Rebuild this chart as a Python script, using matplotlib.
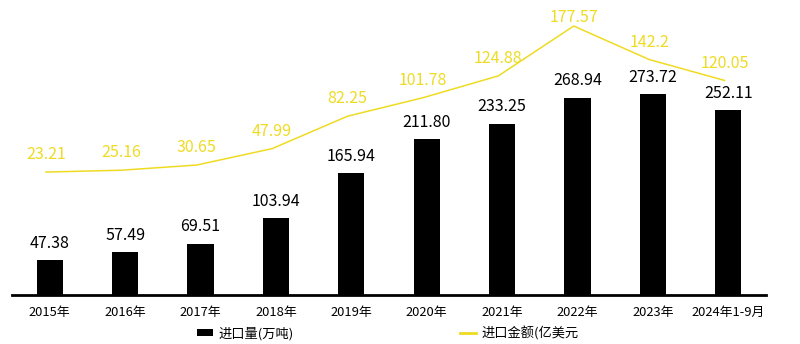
import matplotlib
matplotlib.use("Agg")
import matplotlib.pyplot as plt
from matplotlib.patches import Patch
from matplotlib.lines import Line2D

plt.rcParams['font.family'] = ['Noto Sans CJK SC', 'DejaVu Sans']

years = ['2015年', '2016年', '2017年', '2018年', '2019年', '2020年',
         '2021年', '2022年', '2023年', '2024年1-9月']
volume = [47.38, 57.49, 69.51, 103.94, 165.94, 211.80, 233.25, 268.94, 273.72, 252.11]
value = [23.21, 25.16, 30.65, 47.99, 82.25, 101.78, 124.88, 177.57, 142.2, 120.05]
volume_labels = ['47.38', '57.49', '69.51', '103.94', '165.94', '211.80',
                 '233.25', '268.94', '273.72', '252.11']
value_labels = ['23.21', '25.16', '30.65', '47.99', '82.25', '101.78',
                '124.88', '177.57', '142.2', '120.05']

BLACK = '#000000'
YELLOW = '#EEDB22'

W, H = 800, 344
fig = plt.figure(figsize=(W / 100, H / 100), dpi=100)

# axes rectangle in pixels (top-origin)
left_px, right_px = 12, 766
top_px, bottom_px = 1.5, 294.5
ax = fig.add_axes([left_px / W, 1 - bottom_px / H,
                   (right_px - left_px) / W, (bottom_px - top_px) / H])
ax.set_xlim(-0.5, len(years) - 0.5)
ax.set_ylim(0, 400)

x = list(range(len(years)))
ax.bar(x, volume, width=0.345, color=BLACK, zorder=2)
for xi, v, lab in zip(x, volume, volume_labels):
    ax.annotate(lab, (xi, v), xytext=(0, 12), textcoords='offset points',
                ha='center', va='center', fontsize=11.5, color=BLACK,
                fontweight='light')

# secondary scale for the import value line
ax2 = ax.twinx()
ax2.set_ylim(-106.2, 203.5)
xl = [xi - 0.05 for xi in x]
ax2.plot(xl, value, color=YELLOW, lw=1.1, zorder=3)
ax2.set_xlim(ax.get_xlim())
fig.canvas.draw()
for xi, v, lab in zip(xl, value, value_labels):
    # keep the label inside the canvas near the top
    px_y = ax2.transData.transform((xi, v))[1]
    off = 12.5
    top_limit = H - 17.5
    if px_y + off * 100 / 72 > top_limit:
        off = (top_limit - px_y) * 72 / 100
    ax2.annotate(lab, (xi, v), xytext=(0, off), textcoords='offset points',
                 ha='center', va='center', fontsize=11.5, color=YELLOW,
                 fontweight='light')

for a in (ax, ax2):
    for s in ('top', 'right', 'left'):
        a.spines[s].set_visible(False)
    a.set_yticks([])
ax2.spines['bottom'].set_visible(False)
ax.spines['bottom'].set_linewidth(2.0)
ax.spines['bottom'].set_color(BLACK)
ax.set_xticks(x)
ax.set_xticklabels(years, fontsize=9.3)
ax.tick_params(axis='x', length=0, pad=8)
ax2.tick_params(axis='x', length=0)

handles = [Patch(facecolor=BLACK, edgecolor='none', label='进口量(万吨)'),
           Line2D([0], [0], color=YELLOW, lw=2, label='进口金额(亿美元')]
fig.legend(handles=handles, loc='center', bbox_to_anchor=(388 / W, 1 - 333 / H),
           ncol=2, frameon=False, fontsize=9.5, handlelength=1.2,
           handleheight=0.5, handletextpad=0.45, columnspacing=12.6)

fig.savefig('out.png', dpi=100)
